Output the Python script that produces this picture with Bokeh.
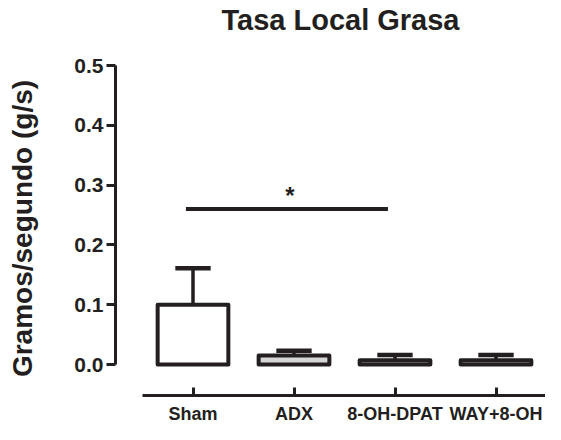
import math
from bokeh.plotting import figure
from bokeh.models import FixedTicker, NumeralTickFormatter, Range1d
from bokeh.embed import file_html
from bokeh.resources import INLINE

# ---- data ----
categories = ["Sham", "ADX", "8-OH-DPAT", "WAY+8-OH"]
means = [0.100, 0.015, 0.007, 0.007]
sems = [0.061, 0.008, 0.009, 0.009]
y_ticks = [0.0, 0.1, 0.2, 0.3, 0.4, 0.5]
sig_pair = ("Sham", "8-OH-DPAT")
sig_level = 0.26
sig_mark = "*"
title_text = "Tasa Local Grasa"
y_label = "Gramos/segundo (g/s)"

# ---- style / layout (pixels inside the 545x424 canvas) ----
INK = "#231f20"
FONT = "Liberation Sans"
fills = ["white", "#d6d6d6", "white", "white"]
bar_w = 0.7
cap_half = 0.175
W, H = 545, 424
PX_X = 101.0        # px per category
PX_Y = 598.0        # px per y unit
X0_PX = 192.5       # first category centre
Y0_PX = 364.0       # y = 0
YAXIS_PX = 115.0    # y axis line
XAXIS_PX = 395.0    # x axis line
TITLE_GAP_PX = 46   # title anchor above top tick
YLAB_PX = (22.0, 228.0)


def dx(px):
    return (px - X0_PX) / PX_X


def dy(py):
    return (Y0_PX - py) / PX_Y


xs = list(range(len(categories)))
tops = [m + s for m, s in zip(means, sems)]

p = figure(width=W, height=H, output_backend="svg", toolbar_location=None,
           x_range=Range1d(dx(0), dx(W)), y_range=Range1d(dy(H), dy(0)),
           min_border_left=0, min_border_right=0, min_border_top=0,
           min_border_bottom=0)
p.outline_line_color = None
p.xgrid.visible = False
p.ygrid.visible = False
p.background_fill_color = "white"
p.border_fill_color = "white"

# title
p.text(x=[(xs[0] + xs[-1]) / 2 - 0.04],
       y=[y_ticks[-1] + TITLE_GAP_PX / PX_Y], text=[title_text],
       text_align="center", text_baseline="alphabetic", text_color=INK,
       text_font_size="29px", text_font_style="bold",
       text_font={"value": FONT})

# y axis title
p.text(x=[dx(YLAB_PX[0])], y=[dy(YLAB_PX[1])], text=[y_label],
       angle=math.pi / 2, text_align="center", text_baseline="middle",
       text_color=INK, text_font_size="28px", text_font_style="bold",
       text_font={"value": FONT})

# error bars (upper only)
p.segment(x0=xs, y0=means, x1=xs, y1=tops, line_color=INK, line_width=3.5)
p.segment(x0=[x - cap_half for x in xs], y0=tops,
          x1=[x + cap_half for x in xs], y1=tops,
          line_color=INK, line_width=4.5)

# bars
p.vbar(x=xs, top=means, bottom=0, width=bar_w, fill_color=fills,
       line_color=INK, line_width=4, line_join="round")

# significance
i0 = categories.index(sig_pair[0])
i1 = categories.index(sig_pair[1])
p.segment(x0=[i0 - 0.07], y0=[sig_level], x1=[i1 - 0.07], y1=[sig_level],
          line_color=INK, line_width=4)
p.text(x=[(i0 + i1) / 2 - 0.04], y=[sig_level], text=[sig_mark],
       text_align="center", text_baseline="bottom", text_color=INK,
       text_font_size="24px", text_font_style="bold",
       text_font={"value": FONT})

# x axis
xa = p.xaxis[0]
xa.fixed_location = dy(XAXIS_PX)
xa.ticker = FixedTicker(ticks=xs)
xa.major_label_overrides = {i: c for i, c in enumerate(categories)}
xa.bounds = (-0.5, len(categories) - 0.5)
xa.major_tick_in = 8
xa.major_tick_out = 0
xa.minor_tick_line_color = None
xa.axis_line_width = 3
xa.axis_line_color = INK
xa.major_tick_line_width = 3
xa.major_tick_line_color = INK
xa.major_label_standoff = 8
xa.major_label_text_font = FONT
xa.major_label_text_font_size = "18px"
xa.major_label_text_font_style = "bold"
xa.major_label_text_color = INK

# y axis
ya = p.yaxis[0]
ya.fixed_location = dx(YAXIS_PX)
ya.ticker = FixedTicker(ticks=y_ticks)
ya.formatter = NumeralTickFormatter(format="0.0")
ya.bounds = (y_ticks[0], y_ticks[-1])
ya.major_tick_in = 0
ya.major_tick_out = 9
ya.minor_tick_line_color = None
ya.axis_line_width = 3
ya.axis_line_color = INK
ya.major_tick_line_width = 3
ya.major_tick_line_color = INK
ya.major_label_standoff = 3
ya.major_label_text_font = FONT
ya.major_label_text_font_size = "21px"
ya.major_label_text_font_style = "bold"
ya.major_label_text_color = INK

open("out.html", "w").write(file_html(p, INLINE))
